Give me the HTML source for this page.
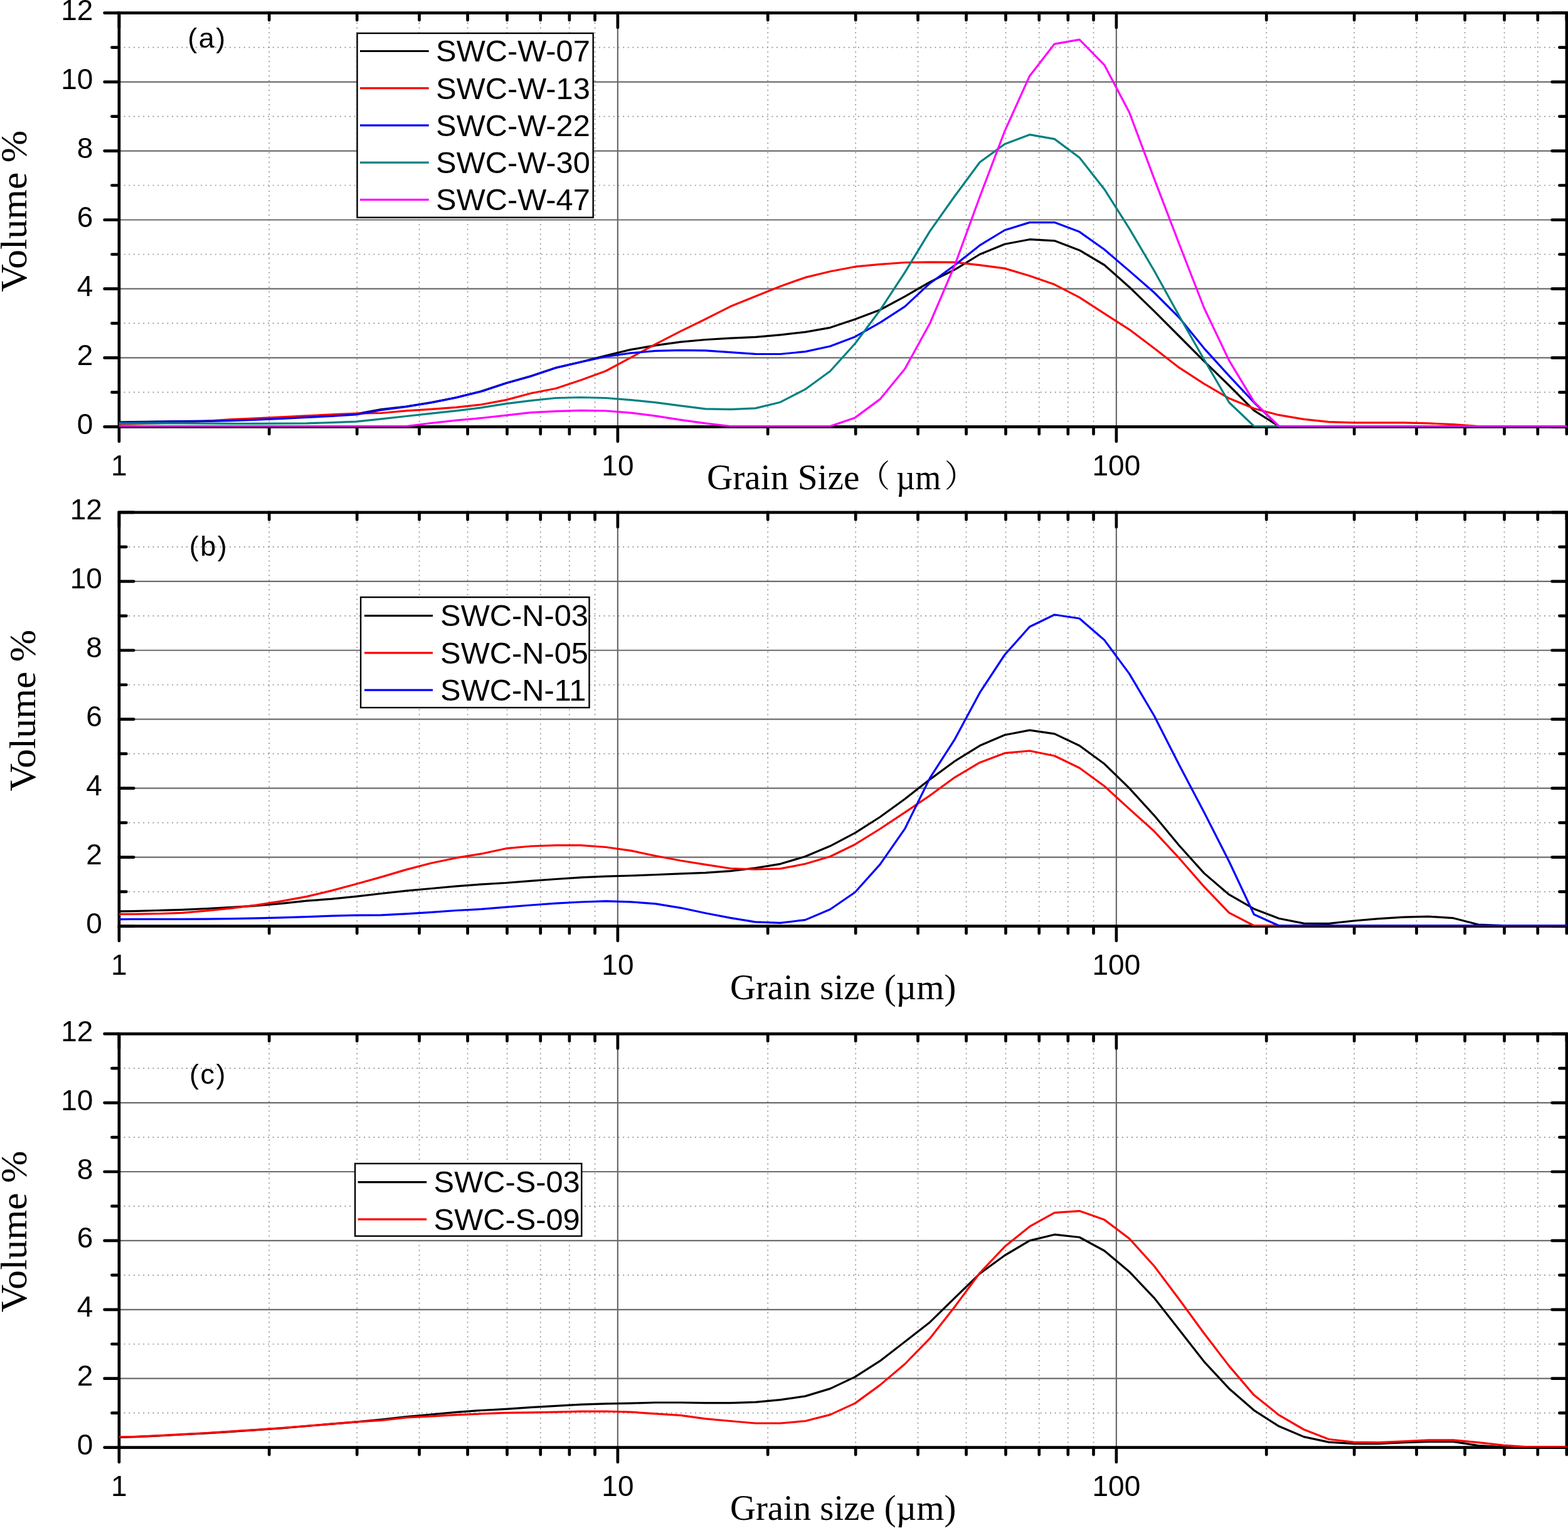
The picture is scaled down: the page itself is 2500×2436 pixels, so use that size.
<!DOCTYPE html>
<html><head><meta charset="utf-8"><title>Grain size distributions</title>
<style>
html,body{margin:0;padding:0;background:#fff;}
svg{display:block;}
.tl{font-family:"Liberation Sans",Arial,sans-serif;font-size:46px;fill:#000;}
.leg{font-family:"Liberation Sans",Arial,sans-serif;font-size:48.8px;fill:#000;}
.tag{font-family:"Liberation Sans",Arial,sans-serif;font-size:45px;letter-spacing:2.5px;fill:#000;}
.ttl{font-family:"Liberation Serif","Times New Roman",serif;font-size:58px;fill:#000;}
.vol{font-size:60px;}
.cjkp{font-family:"Noto Serif CJK SC",serif;font-size:50px;}
.cjk{font-family:"Noto Serif CJK SC","Noto Sans CJK SC",serif;}
.dot{stroke:#959595;stroke-width:1.7;stroke-dasharray:2 5.65;}
.doth{stroke:#959595;stroke-width:1.7;stroke-dasharray:2 5.65;}
.grid{stroke:#6b6b6b;stroke-width:2.2;}
</style></head>
<body>
<svg width="2500" height="2436" viewBox="0 0 2500 2436">
<rect width="2500" height="2436" fill="#fff"/>
<line x1="429.22" y1="20.60" x2="429.22" y2="680.40" class="dot"/>
<line x1="569.21" y1="20.60" x2="569.21" y2="680.40" class="dot"/>
<line x1="668.54" y1="20.60" x2="668.54" y2="680.40" class="dot"/>
<line x1="745.58" y1="20.60" x2="745.58" y2="680.40" class="dot"/>
<line x1="808.53" y1="20.60" x2="808.53" y2="680.40" class="dot"/>
<line x1="861.75" y1="20.60" x2="861.75" y2="680.40" class="dot"/>
<line x1="907.86" y1="20.60" x2="907.86" y2="680.40" class="dot"/>
<line x1="948.52" y1="20.60" x2="948.52" y2="680.40" class="dot"/>
<line x1="1224.22" y1="20.60" x2="1224.22" y2="680.40" class="dot"/>
<line x1="1364.21" y1="20.60" x2="1364.21" y2="680.40" class="dot"/>
<line x1="1463.54" y1="20.60" x2="1463.54" y2="680.40" class="dot"/>
<line x1="1540.58" y1="20.60" x2="1540.58" y2="680.40" class="dot"/>
<line x1="1603.53" y1="20.60" x2="1603.53" y2="680.40" class="dot"/>
<line x1="1656.75" y1="20.60" x2="1656.75" y2="680.40" class="dot"/>
<line x1="1702.86" y1="20.60" x2="1702.86" y2="680.40" class="dot"/>
<line x1="1743.52" y1="20.60" x2="1743.52" y2="680.40" class="dot"/>
<line x1="2019.22" y1="20.60" x2="2019.22" y2="680.40" class="dot"/>
<line x1="2159.21" y1="20.60" x2="2159.21" y2="680.40" class="dot"/>
<line x1="2258.54" y1="20.60" x2="2258.54" y2="680.40" class="dot"/>
<line x1="2335.58" y1="20.60" x2="2335.58" y2="680.40" class="dot"/>
<line x1="2398.53" y1="20.60" x2="2398.53" y2="680.40" class="dot"/>
<line x1="2451.75" y1="20.60" x2="2451.75" y2="680.40" class="dot"/>
<line x1="189.90" y1="625.42" x2="2497.90" y2="625.42" class="doth"/>
<line x1="189.90" y1="515.45" x2="2497.90" y2="515.45" class="doth"/>
<line x1="189.90" y1="405.48" x2="2497.90" y2="405.48" class="doth"/>
<line x1="189.90" y1="295.52" x2="2497.90" y2="295.52" class="doth"/>
<line x1="189.90" y1="185.55" x2="2497.90" y2="185.55" class="doth"/>
<line x1="189.90" y1="75.58" x2="2497.90" y2="75.58" class="doth"/>
<line x1="984.90" y1="20.60" x2="984.90" y2="680.40" class="grid"/>
<line x1="1779.90" y1="20.60" x2="1779.90" y2="680.40" class="grid"/>
<line x1="189.90" y1="570.43" x2="2497.90" y2="570.43" class="grid"/>
<line x1="189.90" y1="460.47" x2="2497.90" y2="460.47" class="grid"/>
<line x1="189.90" y1="350.50" x2="2497.90" y2="350.50" class="grid"/>
<line x1="189.90" y1="240.53" x2="2497.90" y2="240.53" class="grid"/>
<line x1="189.90" y1="130.57" x2="2497.90" y2="130.57" class="grid"/>
<rect x="189.90" y="20.60" width="2308.00" height="659.80" fill="none" stroke="#000" stroke-width="4.7"/>
<path d="M189.90 680.40V703.70M189.90 20.60V43.90M429.22 680.40V691.90M429.22 20.60V32.10M569.21 680.40V691.90M569.21 20.60V32.10M668.54 680.40V691.90M668.54 20.60V32.10M745.58 680.40V691.90M745.58 20.60V32.10M808.53 680.40V691.90M808.53 20.60V32.10M861.75 680.40V691.90M861.75 20.60V32.10M907.86 680.40V691.90M907.86 20.60V32.10M948.52 680.40V691.90M948.52 20.60V32.10M984.90 680.40V703.70M984.90 20.60V43.90M1224.22 680.40V691.90M1224.22 20.60V32.10M1364.21 680.40V691.90M1364.21 20.60V32.10M1463.54 680.40V691.90M1463.54 20.60V32.10M1540.58 680.40V691.90M1540.58 20.60V32.10M1603.53 680.40V691.90M1603.53 20.60V32.10M1656.75 680.40V691.90M1656.75 20.60V32.10M1702.86 680.40V691.90M1702.86 20.60V32.10M1743.52 680.40V691.90M1743.52 20.60V32.10M1779.90 680.40V703.70M1779.90 20.60V43.90M2019.22 680.40V691.90M2019.22 20.60V32.10M2159.21 680.40V691.90M2159.21 20.60V32.10M2258.54 680.40V691.90M2258.54 20.60V32.10M2335.58 680.40V691.90M2335.58 20.60V32.10M2398.53 680.40V691.90M2398.53 20.60V32.10M2451.75 680.40V691.90M2451.75 20.60V32.10M2497.86 680.40V691.90M2497.86 20.60V32.10M166.60 680.40H189.90M2497.90 680.40H2474.60M178.40 625.42H189.90M2497.90 625.42H2486.40M166.60 570.43H189.90M2497.90 570.43H2474.60M178.40 515.45H189.90M2497.90 515.45H2486.40M166.60 460.47H189.90M2497.90 460.47H2474.60M178.40 405.48H189.90M2497.90 405.48H2486.40M166.60 350.50H189.90M2497.90 350.50H2474.60M178.40 295.52H189.90M2497.90 295.52H2486.40M166.60 240.53H189.90M2497.90 240.53H2474.60M178.40 185.55H189.90M2497.90 185.55H2486.40M166.60 130.57H189.90M2497.90 130.57H2474.60M178.40 75.58H189.90M2497.90 75.58H2486.40M166.60 20.60H189.90M2497.90 20.60H2474.60" stroke="#000" stroke-width="4.7" stroke-linecap="round" fill="none"/>
<clipPath id="clipa"><rect x="189.90" y="18.60" width="2308.00" height="661.80"/></clipPath>
<g clip-path="url(#clipa)" fill="none" stroke-width="3.2" stroke-linejoin="round">
<polyline stroke="#000000" points="170.8,673.5 210.6,672.7 250.3,672.2 290.1,671.6 329.8,671.1 369.6,670.0 409.3,668.2 449.1,666.4 488.8,664.2 528.6,662.1 568.3,659.8 608.1,652.6 647.8,648.0 687.6,641.6 727.3,633.7 767.1,623.8 806.8,610.8 846.6,599.6 886.3,586.3 926.1,577.0 965.8,567.0 1005.6,557.4 1045.3,550.6 1085.1,545.1 1124.8,541.5 1164.6,539.1 1204.3,537.4 1244.1,533.8 1283.8,529.4 1323.6,522.3 1363.3,509.0 1403.1,494.0 1442.8,472.7 1482.6,449.6 1522.3,429.8 1562.1,405.5 1601.8,389.2 1641.6,381.7 1681.3,383.8 1721.1,398.9 1760.8,422.5 1800.6,457.7 1840.3,496.1 1880.1,536.0 1919.8,575.9 1959.6,614.5 1999.3,654.4 2039.1,679.6 2078.8,679.6 2118.6,679.6 2158.3,679.6 2198.1,679.6 2237.8,679.6 2277.6,679.6 2317.3,679.6 2357.1,679.6 2396.8,679.6 2436.6,679.6 2476.3,679.6 2516.1,679.6"/>
<polyline stroke="#ff0000" points="170.8,676.3 210.6,676.0 250.3,674.9 290.1,673.3 329.8,671.1 369.6,668.7 409.3,666.9 449.1,664.8 488.8,662.8 528.6,660.8 568.3,659.2 608.1,658.5 647.8,654.8 687.6,652.4 727.3,649.3 767.1,645.0 806.8,637.6 846.6,627.0 886.3,619.2 926.1,605.9 965.8,591.5 1005.6,570.1 1045.3,548.6 1085.1,528.2 1124.8,508.7 1164.6,488.6 1204.3,472.5 1244.1,456.4 1283.8,442.4 1323.6,432.7 1363.3,425.2 1403.1,421.4 1442.8,418.5 1482.6,417.9 1522.3,418.2 1562.1,422.7 1601.8,427.9 1641.6,439.7 1681.3,453.6 1721.1,474.1 1760.8,499.9 1800.6,525.3 1840.3,555.3 1880.1,586.2 1919.8,611.9 1959.6,635.1 1999.3,651.3 2039.1,661.7 2078.8,668.3 2118.6,672.7 2158.3,673.8 2198.1,673.8 2237.8,673.8 2277.6,674.9 2317.3,676.6 2357.1,679.6 2396.8,679.6 2436.6,679.6 2476.3,679.6 2516.1,679.6"/>
<polyline stroke="#0000ff" points="170.8,673.8 210.6,673.0 250.3,672.4 290.1,671.9 329.8,671.5 369.6,670.6 409.3,669.1 449.1,667.5 488.8,665.4 528.6,663.4 568.3,660.9 608.1,653.6 647.8,648.3 687.6,642.0 727.3,633.9 767.1,624.2 806.8,611.0 846.6,599.7 886.3,586.4 926.1,577.3 965.8,568.5 1005.6,562.9 1045.3,559.4 1085.1,558.4 1124.8,558.8 1164.6,561.6 1204.3,564.3 1244.1,564.5 1283.8,560.6 1323.6,552.0 1363.3,536.9 1403.1,514.4 1442.8,488.7 1482.6,451.7 1522.3,422.7 1562.1,391.2 1601.8,367.0 1641.6,354.6 1681.3,354.6 1721.1,369.6 1760.8,397.8 1800.6,431.9 1840.3,466.5 1880.1,506.4 1919.8,555.3 1959.6,599.1 1999.3,641.5 2039.1,679.6 2078.8,679.6 2118.6,679.6 2158.3,679.6 2198.1,679.6 2237.8,679.6 2277.6,679.6 2317.3,679.6 2357.1,679.6 2396.8,679.6 2436.6,679.6 2476.3,679.6 2516.1,679.6"/>
<polyline stroke="#008080" points="170.8,674.9 210.6,674.9 250.3,674.9 290.1,674.9 329.8,675.2 369.6,675.3 409.3,675.3 449.1,675.2 488.8,674.9 528.6,673.6 568.3,672.2 608.1,667.8 647.8,663.5 687.6,659.1 727.3,654.8 767.1,649.9 806.8,643.7 846.6,638.6 886.3,634.5 926.1,633.5 965.8,634.5 1005.6,637.6 1045.3,641.7 1085.1,646.8 1124.8,651.9 1164.6,652.6 1204.3,650.9 1244.1,641.2 1283.8,620.7 1323.6,591.8 1363.3,547.7 1403.1,494.6 1442.8,434.1 1482.6,368.6 1522.3,312.5 1562.1,258.7 1601.8,229.8 1641.6,214.7 1681.3,221.6 1721.1,251.2 1760.8,301.7 1800.6,364.4 1840.3,431.8 1880.1,503.8 1919.8,573.3 1959.6,641.5 1999.3,679.4 2039.1,679.6 2078.8,679.6 2118.6,679.6 2158.3,679.6 2198.1,679.6 2237.8,679.6 2277.6,679.6 2317.3,679.6 2357.1,679.6 2396.8,679.6 2436.6,679.6 2476.3,679.6 2516.1,679.6"/>
<polyline stroke="#ff00ff" points="170.8,679.6 210.6,679.6 250.3,679.6 290.1,679.6 329.8,679.6 369.6,679.6 409.3,679.6 449.1,679.6 488.8,679.6 528.6,679.6 568.3,679.6 608.1,679.6 647.8,679.6 687.6,674.5 727.3,670.2 767.1,666.5 806.8,662.1 846.6,657.6 886.3,655.6 926.1,654.4 965.8,655.0 1005.6,658.1 1045.3,663.2 1085.1,669.3 1124.8,674.9 1164.6,679.6 1204.3,679.6 1244.1,679.6 1283.8,679.6 1323.6,679.6 1363.3,665.9 1403.1,636.4 1442.8,588.0 1482.6,515.5 1522.3,422.7 1562.1,314.0 1601.8,209.3 1641.6,121.2 1681.3,70.1 1721.1,63.2 1760.8,103.6 1800.6,179.2 1840.3,285.1 1880.1,389.0 1919.8,491.0 1959.6,574.6 1999.3,640.3 2039.1,679.6 2078.8,679.6 2118.6,679.6 2158.3,679.6 2198.1,679.6 2237.8,679.6 2277.6,679.6 2317.3,679.6 2357.1,679.6 2396.8,679.6 2436.6,679.6 2476.3,679.6 2516.1,679.6"/>
</g>
<rect x="569.5" y="53.0" width="376.2" height="293.7" fill="#fff" stroke="#000" stroke-width="2.4"/>
<line x1="574" y1="81.5" x2="683.7" y2="81.5" stroke="#000000" stroke-width="3.2"/>
<text x="695.1" y="98.3" class="leg">SWC-W-07</text>
<line x1="574" y1="140.7" x2="683.7" y2="140.7" stroke="#ff0000" stroke-width="3.2"/>
<text x="695.1" y="157.5" class="leg">SWC-W-13</text>
<line x1="574" y1="199.9" x2="683.7" y2="199.9" stroke="#0000ff" stroke-width="3.2"/>
<text x="695.1" y="216.7" class="leg">SWC-W-22</text>
<line x1="574" y1="259.1" x2="683.7" y2="259.1" stroke="#008080" stroke-width="3.2"/>
<text x="695.1" y="275.9" class="leg">SWC-W-30</text>
<line x1="574" y1="318.3" x2="683.7" y2="318.3" stroke="#ff00ff" stroke-width="3.2"/>
<text x="695.1" y="335.1" class="leg">SWC-W-47</text>
<text x="148.3" y="691.9" class="tl" text-anchor="end">0</text>
<text x="148.3" y="581.9" class="tl" text-anchor="end">2</text>
<text x="148.3" y="472.0" class="tl" text-anchor="end">4</text>
<text x="148.3" y="362.0" class="tl" text-anchor="end">6</text>
<text x="148.3" y="252.0" class="tl" text-anchor="end">8</text>
<text x="148.3" y="142.1" class="tl" text-anchor="end">10</text>
<text x="148.3" y="32.1" class="tl" text-anchor="end">12</text>
<text x="189.90" y="757.7" class="tl" text-anchor="middle">1</text>
<text x="984.90" y="757.7" class="tl" text-anchor="middle">10</text>
<text x="1779.90" y="757.7" class="tl" text-anchor="middle">100</text>
<text x="1126.9" y="779.6" class="ttl" textLength="243.5" lengthAdjust="spacingAndGlyphs">Grain Size</text>
<text x="1369.3" y="776.1" class="ttl cjkp">（</text>
<text x="1428.9" y="779.6" class="ttl" textLength="71.2" lengthAdjust="spacingAndGlyphs">µm</text>
<text x="1505.7" y="776.1" class="ttl cjkp">）</text>
<text transform="translate(41.7,336.6) rotate(-90)" class="ttl vol" text-anchor="middle" textLength="257.6" lengthAdjust="spacingAndGlyphs">Volume %</text>
<text x="299.2" y="76.0" class="tag">(a)</text>
<line x1="429.22" y1="816.90" x2="429.22" y2="1476.50" class="dot"/>
<line x1="569.21" y1="816.90" x2="569.21" y2="1476.50" class="dot"/>
<line x1="668.54" y1="816.90" x2="668.54" y2="1476.50" class="dot"/>
<line x1="745.58" y1="816.90" x2="745.58" y2="1476.50" class="dot"/>
<line x1="808.53" y1="816.90" x2="808.53" y2="1476.50" class="dot"/>
<line x1="861.75" y1="816.90" x2="861.75" y2="1476.50" class="dot"/>
<line x1="907.86" y1="816.90" x2="907.86" y2="1476.50" class="dot"/>
<line x1="948.52" y1="816.90" x2="948.52" y2="1476.50" class="dot"/>
<line x1="1224.22" y1="816.90" x2="1224.22" y2="1476.50" class="dot"/>
<line x1="1364.21" y1="816.90" x2="1364.21" y2="1476.50" class="dot"/>
<line x1="1463.54" y1="816.90" x2="1463.54" y2="1476.50" class="dot"/>
<line x1="1540.58" y1="816.90" x2="1540.58" y2="1476.50" class="dot"/>
<line x1="1603.53" y1="816.90" x2="1603.53" y2="1476.50" class="dot"/>
<line x1="1656.75" y1="816.90" x2="1656.75" y2="1476.50" class="dot"/>
<line x1="1702.86" y1="816.90" x2="1702.86" y2="1476.50" class="dot"/>
<line x1="1743.52" y1="816.90" x2="1743.52" y2="1476.50" class="dot"/>
<line x1="2019.22" y1="816.90" x2="2019.22" y2="1476.50" class="dot"/>
<line x1="2159.21" y1="816.90" x2="2159.21" y2="1476.50" class="dot"/>
<line x1="2258.54" y1="816.90" x2="2258.54" y2="1476.50" class="dot"/>
<line x1="2335.58" y1="816.90" x2="2335.58" y2="1476.50" class="dot"/>
<line x1="2398.53" y1="816.90" x2="2398.53" y2="1476.50" class="dot"/>
<line x1="2451.75" y1="816.90" x2="2451.75" y2="1476.50" class="dot"/>
<line x1="189.90" y1="1421.53" x2="2497.90" y2="1421.53" class="doth"/>
<line x1="189.90" y1="1311.60" x2="2497.90" y2="1311.60" class="doth"/>
<line x1="189.90" y1="1201.67" x2="2497.90" y2="1201.67" class="doth"/>
<line x1="189.90" y1="1091.73" x2="2497.90" y2="1091.73" class="doth"/>
<line x1="189.90" y1="981.80" x2="2497.90" y2="981.80" class="doth"/>
<line x1="189.90" y1="871.87" x2="2497.90" y2="871.87" class="doth"/>
<line x1="984.90" y1="816.90" x2="984.90" y2="1476.50" class="grid"/>
<line x1="1779.90" y1="816.90" x2="1779.90" y2="1476.50" class="grid"/>
<line x1="189.90" y1="1366.57" x2="2497.90" y2="1366.57" class="grid"/>
<line x1="189.90" y1="1256.63" x2="2497.90" y2="1256.63" class="grid"/>
<line x1="189.90" y1="1146.70" x2="2497.90" y2="1146.70" class="grid"/>
<line x1="189.90" y1="1036.77" x2="2497.90" y2="1036.77" class="grid"/>
<line x1="189.90" y1="926.83" x2="2497.90" y2="926.83" class="grid"/>
<rect x="189.90" y="816.90" width="2308.00" height="659.60" fill="none" stroke="#000" stroke-width="4.7"/>
<path d="M189.90 1476.50V1499.80M189.90 816.90V840.20M429.22 1476.50V1488.00M429.22 816.90V828.40M569.21 1476.50V1488.00M569.21 816.90V828.40M668.54 1476.50V1488.00M668.54 816.90V828.40M745.58 1476.50V1488.00M745.58 816.90V828.40M808.53 1476.50V1488.00M808.53 816.90V828.40M861.75 1476.50V1488.00M861.75 816.90V828.40M907.86 1476.50V1488.00M907.86 816.90V828.40M948.52 1476.50V1488.00M948.52 816.90V828.40M984.90 1476.50V1499.80M984.90 816.90V840.20M1224.22 1476.50V1488.00M1224.22 816.90V828.40M1364.21 1476.50V1488.00M1364.21 816.90V828.40M1463.54 1476.50V1488.00M1463.54 816.90V828.40M1540.58 1476.50V1488.00M1540.58 816.90V828.40M1603.53 1476.50V1488.00M1603.53 816.90V828.40M1656.75 1476.50V1488.00M1656.75 816.90V828.40M1702.86 1476.50V1488.00M1702.86 816.90V828.40M1743.52 1476.50V1488.00M1743.52 816.90V828.40M1779.90 1476.50V1499.80M1779.90 816.90V840.20M2019.22 1476.50V1488.00M2019.22 816.90V828.40M2159.21 1476.50V1488.00M2159.21 816.90V828.40M2258.54 1476.50V1488.00M2258.54 816.90V828.40M2335.58 1476.50V1488.00M2335.58 816.90V828.40M2398.53 1476.50V1488.00M2398.53 816.90V828.40M2451.75 1476.50V1488.00M2451.75 816.90V828.40M2497.86 1476.50V1488.00M2497.86 816.90V828.40M189.90 1476.50H213.20M2497.90 1476.50H2474.60M189.90 1421.53H201.40M2497.90 1421.53H2486.40M189.90 1366.57H213.20M2497.90 1366.57H2474.60M189.90 1311.60H201.40M2497.90 1311.60H2486.40M189.90 1256.63H213.20M2497.90 1256.63H2474.60M189.90 1201.67H201.40M2497.90 1201.67H2486.40M189.90 1146.70H213.20M2497.90 1146.70H2474.60M189.90 1091.73H201.40M2497.90 1091.73H2486.40M189.90 1036.77H213.20M2497.90 1036.77H2474.60M189.90 981.80H201.40M2497.90 981.80H2486.40M189.90 926.83H213.20M2497.90 926.83H2474.60M189.90 871.87H201.40M2497.90 871.87H2486.40M189.90 816.90H213.20M2497.90 816.90H2474.60" stroke="#000" stroke-width="4.7" stroke-linecap="round" fill="none"/>
<clipPath id="clipb"><rect x="189.90" y="814.90" width="2308.00" height="661.60"/></clipPath>
<g clip-path="url(#clipb)" fill="none" stroke-width="3.2" stroke-linejoin="round">
<polyline stroke="#000000" points="170.8,1453.1 210.6,1452.6 250.3,1451.5 290.1,1450.3 329.8,1448.5 369.6,1446.4 409.3,1443.8 449.1,1440.3 488.8,1436.2 528.6,1433.1 568.3,1429.1 608.1,1424.5 647.8,1420.2 687.6,1416.5 727.3,1412.8 767.1,1409.8 806.8,1407.5 846.6,1404.3 886.3,1401.5 926.1,1398.9 965.8,1397.2 1005.6,1396.0 1045.3,1394.5 1085.1,1392.8 1124.8,1391.4 1164.6,1388.6 1204.3,1383.8 1244.1,1377.3 1283.8,1365.5 1323.6,1348.8 1363.3,1327.9 1403.1,1302.5 1442.8,1273.7 1482.6,1242.6 1522.3,1213.5 1562.1,1188.8 1601.8,1171.7 1641.6,1164.1 1681.3,1169.9 1721.1,1188.8 1760.8,1217.8 1800.6,1256.6 1840.3,1300.1 1880.1,1348.0 1919.8,1392.1 1959.6,1426.2 1999.3,1448.9 2039.1,1464.2 2078.8,1472.1 2118.6,1472.4 2158.3,1468.0 2198.1,1464.7 2237.8,1462.2 2277.6,1461.1 2317.3,1463.7 2357.1,1474.0 2396.8,1475.7 2436.6,1475.7 2476.3,1475.7 2516.1,1475.7"/>
<polyline stroke="#ff0000" points="170.8,1457.5 210.6,1457.3 250.3,1456.7 290.1,1455.4 329.8,1451.9 369.6,1447.9 409.3,1442.8 449.1,1436.6 488.8,1429.4 528.6,1419.9 568.3,1409.2 608.1,1398.1 647.8,1386.4 687.6,1376.0 727.3,1367.7 767.1,1361.2 806.8,1352.7 846.6,1349.0 886.3,1347.7 926.1,1347.7 965.8,1350.5 1005.6,1356.1 1045.3,1364.5 1085.1,1372.0 1124.8,1378.4 1164.6,1384.5 1204.3,1386.0 1244.1,1384.9 1283.8,1377.3 1323.6,1365.5 1363.3,1346.2 1403.1,1321.5 1442.8,1295.2 1482.6,1268.3 1522.3,1239.3 1562.1,1215.7 1601.8,1200.7 1641.6,1197.0 1681.3,1205.0 1721.1,1224.3 1760.8,1253.3 1800.6,1289.6 1840.3,1325.3 1880.1,1368.2 1919.8,1413.6 1959.6,1455.2 1999.3,1475.7 2039.1,1475.7 2078.8,1475.7 2118.6,1475.7 2158.3,1475.7 2198.1,1475.7 2237.8,1475.7 2277.6,1475.7 2317.3,1475.7 2357.1,1475.7 2396.8,1475.7 2436.6,1475.7 2476.3,1475.7 2516.1,1475.7"/>
<polyline stroke="#0000ff" points="170.8,1465.8 210.6,1465.3 250.3,1465.3 290.1,1465.3 329.8,1465.2 369.6,1464.6 409.3,1463.9 449.1,1462.8 488.8,1461.6 528.6,1460.1 568.3,1459.1 608.1,1458.8 647.8,1456.9 687.6,1454.3 727.3,1451.5 767.1,1449.4 806.8,1446.2 846.6,1443.0 886.3,1440.2 926.1,1438.0 965.8,1436.7 1005.6,1437.8 1045.3,1440.8 1085.1,1447.3 1124.8,1455.8 1164.6,1463.4 1204.3,1469.8 1244.1,1471.3 1283.8,1466.6 1323.6,1449.8 1363.3,1422.5 1403.1,1378.1 1442.8,1321.1 1482.6,1240.4 1522.3,1178.6 1562.1,1104.4 1601.8,1044.0 1641.6,999.3 1681.3,980.0 1721.1,986.0 1760.8,1020.4 1800.6,1074.1 1840.3,1141.3 1880.1,1219.4 1919.8,1295.1 1959.6,1373.2 1999.3,1457.7 2039.1,1475.7 2078.8,1475.7 2118.6,1475.7 2158.3,1475.7 2198.1,1475.7 2237.8,1475.7 2277.6,1475.7 2317.3,1475.7 2357.1,1475.7 2396.8,1475.7 2436.6,1475.7 2476.3,1475.7 2516.1,1475.7"/>
</g>
<rect x="575.1" y="952.1" width="364.4" height="176.0" fill="#fff" stroke="#000" stroke-width="2.4"/>
<line x1="581" y1="981.6" x2="690" y2="981.6" stroke="#000000" stroke-width="3.2"/>
<text x="702.1" y="998.4" class="leg">SWC-N-03</text>
<line x1="581" y1="1040.9" x2="690" y2="1040.9" stroke="#ff0000" stroke-width="3.2"/>
<text x="702.1" y="1057.7" class="leg">SWC-N-05</text>
<line x1="581" y1="1100.2" x2="690" y2="1100.2" stroke="#0000ff" stroke-width="3.2"/>
<text x="702.1" y="1117.0" class="leg">SWC-N-11</text>
<text x="162.9" y="1488.0" class="tl" text-anchor="end">0</text>
<text x="162.9" y="1378.1" class="tl" text-anchor="end">2</text>
<text x="162.9" y="1268.1" class="tl" text-anchor="end">4</text>
<text x="162.9" y="1158.2" class="tl" text-anchor="end">6</text>
<text x="162.9" y="1048.3" class="tl" text-anchor="end">8</text>
<text x="162.9" y="938.3" class="tl" text-anchor="end">10</text>
<text x="162.9" y="828.4" class="tl" text-anchor="end">12</text>
<text x="189.90" y="1553.8" class="tl" text-anchor="middle">1</text>
<text x="984.90" y="1553.8" class="tl" text-anchor="middle">10</text>
<text x="1779.90" y="1553.8" class="tl" text-anchor="middle">100</text>
<text x="1164" y="1592.6" class="ttl" textLength="360.3" lengthAdjust="spacingAndGlyphs">Grain size (µm)</text>
<text transform="translate(55.9,1132.6) rotate(-90)" class="ttl vol" text-anchor="middle" textLength="257.6" lengthAdjust="spacingAndGlyphs">Volume %</text>
<text x="301.8" y="886.0" class="tag">(b)</text>
<line x1="429.22" y1="1648.20" x2="429.22" y2="2307.60" class="dot"/>
<line x1="569.21" y1="1648.20" x2="569.21" y2="2307.60" class="dot"/>
<line x1="668.54" y1="1648.20" x2="668.54" y2="2307.60" class="dot"/>
<line x1="745.58" y1="1648.20" x2="745.58" y2="2307.60" class="dot"/>
<line x1="808.53" y1="1648.20" x2="808.53" y2="2307.60" class="dot"/>
<line x1="861.75" y1="1648.20" x2="861.75" y2="2307.60" class="dot"/>
<line x1="907.86" y1="1648.20" x2="907.86" y2="2307.60" class="dot"/>
<line x1="948.52" y1="1648.20" x2="948.52" y2="2307.60" class="dot"/>
<line x1="1224.22" y1="1648.20" x2="1224.22" y2="2307.60" class="dot"/>
<line x1="1364.21" y1="1648.20" x2="1364.21" y2="2307.60" class="dot"/>
<line x1="1463.54" y1="1648.20" x2="1463.54" y2="2307.60" class="dot"/>
<line x1="1540.58" y1="1648.20" x2="1540.58" y2="2307.60" class="dot"/>
<line x1="1603.53" y1="1648.20" x2="1603.53" y2="2307.60" class="dot"/>
<line x1="1656.75" y1="1648.20" x2="1656.75" y2="2307.60" class="dot"/>
<line x1="1702.86" y1="1648.20" x2="1702.86" y2="2307.60" class="dot"/>
<line x1="1743.52" y1="1648.20" x2="1743.52" y2="2307.60" class="dot"/>
<line x1="2019.22" y1="1648.20" x2="2019.22" y2="2307.60" class="dot"/>
<line x1="2159.21" y1="1648.20" x2="2159.21" y2="2307.60" class="dot"/>
<line x1="2258.54" y1="1648.20" x2="2258.54" y2="2307.60" class="dot"/>
<line x1="2335.58" y1="1648.20" x2="2335.58" y2="2307.60" class="dot"/>
<line x1="2398.53" y1="1648.20" x2="2398.53" y2="2307.60" class="dot"/>
<line x1="2451.75" y1="1648.20" x2="2451.75" y2="2307.60" class="dot"/>
<line x1="189.90" y1="2252.65" x2="2497.90" y2="2252.65" class="doth"/>
<line x1="189.90" y1="2142.75" x2="2497.90" y2="2142.75" class="doth"/>
<line x1="189.90" y1="2032.85" x2="2497.90" y2="2032.85" class="doth"/>
<line x1="189.90" y1="1922.95" x2="2497.90" y2="1922.95" class="doth"/>
<line x1="189.90" y1="1813.05" x2="2497.90" y2="1813.05" class="doth"/>
<line x1="189.90" y1="1703.15" x2="2497.90" y2="1703.15" class="doth"/>
<line x1="984.90" y1="1648.20" x2="984.90" y2="2307.60" class="grid"/>
<line x1="1779.90" y1="1648.20" x2="1779.90" y2="2307.60" class="grid"/>
<line x1="189.90" y1="2197.70" x2="2497.90" y2="2197.70" class="grid"/>
<line x1="189.90" y1="2087.80" x2="2497.90" y2="2087.80" class="grid"/>
<line x1="189.90" y1="1977.90" x2="2497.90" y2="1977.90" class="grid"/>
<line x1="189.90" y1="1868.00" x2="2497.90" y2="1868.00" class="grid"/>
<line x1="189.90" y1="1758.10" x2="2497.90" y2="1758.10" class="grid"/>
<rect x="189.90" y="1648.20" width="2308.00" height="659.40" fill="none" stroke="#000" stroke-width="4.7"/>
<path d="M189.90 2307.60V2330.90M189.90 1648.20V1671.50M429.22 2307.60V2319.10M429.22 1648.20V1659.70M569.21 2307.60V2319.10M569.21 1648.20V1659.70M668.54 2307.60V2319.10M668.54 1648.20V1659.70M745.58 2307.60V2319.10M745.58 1648.20V1659.70M808.53 2307.60V2319.10M808.53 1648.20V1659.70M861.75 2307.60V2319.10M861.75 1648.20V1659.70M907.86 2307.60V2319.10M907.86 1648.20V1659.70M948.52 2307.60V2319.10M948.52 1648.20V1659.70M984.90 2307.60V2330.90M984.90 1648.20V1671.50M1224.22 2307.60V2319.10M1224.22 1648.20V1659.70M1364.21 2307.60V2319.10M1364.21 1648.20V1659.70M1463.54 2307.60V2319.10M1463.54 1648.20V1659.70M1540.58 2307.60V2319.10M1540.58 1648.20V1659.70M1603.53 2307.60V2319.10M1603.53 1648.20V1659.70M1656.75 2307.60V2319.10M1656.75 1648.20V1659.70M1702.86 2307.60V2319.10M1702.86 1648.20V1659.70M1743.52 2307.60V2319.10M1743.52 1648.20V1659.70M1779.90 2307.60V2330.90M1779.90 1648.20V1671.50M2019.22 2307.60V2319.10M2019.22 1648.20V1659.70M2159.21 2307.60V2319.10M2159.21 1648.20V1659.70M2258.54 2307.60V2319.10M2258.54 1648.20V1659.70M2335.58 2307.60V2319.10M2335.58 1648.20V1659.70M2398.53 2307.60V2319.10M2398.53 1648.20V1659.70M2451.75 2307.60V2319.10M2451.75 1648.20V1659.70M2497.86 2307.60V2319.10M2497.86 1648.20V1659.70M166.60 2307.60H189.90M2497.90 2307.60H2474.60M178.40 2252.65H189.90M2497.90 2252.65H2486.40M166.60 2197.70H189.90M2497.90 2197.70H2474.60M178.40 2142.75H189.90M2497.90 2142.75H2486.40M166.60 2087.80H189.90M2497.90 2087.80H2474.60M178.40 2032.85H189.90M2497.90 2032.85H2486.40M166.60 1977.90H189.90M2497.90 1977.90H2474.60M178.40 1922.95H189.90M2497.90 1922.95H2486.40M166.60 1868.00H189.90M2497.90 1868.00H2474.60M178.40 1813.05H189.90M2497.90 1813.05H2486.40M166.60 1758.10H189.90M2497.90 1758.10H2474.60M178.40 1703.15H189.90M2497.90 1703.15H2486.40M166.60 1648.20H189.90M2497.90 1648.20H2474.60" stroke="#000" stroke-width="4.7" stroke-linecap="round" fill="none"/>
<clipPath id="clipc"><rect x="189.90" y="1646.20" width="2308.00" height="661.40"/></clipPath>
<g clip-path="url(#clipc)" fill="none" stroke-width="3.2" stroke-linejoin="round">
<polyline stroke="#000000" points="170.8,2291.7 210.6,2290.8 250.3,2289.2 290.1,2287.0 329.8,2284.8 369.6,2282.3 409.3,2279.7 449.1,2276.8 488.8,2273.5 528.6,2270.2 568.3,2266.8 608.1,2263.1 647.8,2258.6 687.6,2255.0 727.3,2251.3 767.1,2248.5 806.8,2246.4 846.6,2243.6 886.3,2241.4 926.1,2239.2 965.8,2237.8 1005.6,2237.1 1045.3,2236.0 1085.1,2236.0 1124.8,2236.7 1164.6,2236.7 1204.3,2235.4 1244.1,2231.7 1283.8,2225.9 1323.6,2213.9 1363.3,2195.1 1403.1,2169.7 1442.8,2139.1 1482.6,2107.9 1522.3,2069.2 1562.1,2030.5 1601.8,2001.5 1641.6,1977.9 1681.3,1968.2 1721.1,1972.5 1760.8,1994.0 1800.6,2027.4 1840.3,2069.3 1880.1,2120.1 1919.8,2170.8 1959.6,2213.7 1999.3,2248.3 2039.1,2273.8 2078.8,2290.6 2118.6,2299.1 2158.3,2301.7 2198.1,2301.7 2237.8,2299.6 2277.6,2298.3 2317.3,2298.3 2357.1,2304.7 2396.8,2306.8 2436.6,2306.8 2476.3,2306.8 2516.1,2306.8"/>
<polyline stroke="#ff0000" points="170.8,2291.4 210.6,2290.5 250.3,2288.8 290.1,2286.6 329.8,2284.5 369.6,2281.9 409.3,2279.3 449.1,2276.5 488.8,2273.3 528.6,2270.1 568.3,2266.8 608.1,2264.5 647.8,2260.0 687.6,2257.8 727.3,2255.6 767.1,2253.9 806.8,2252.4 846.6,2251.8 886.3,2251.1 926.1,2250.2 965.8,2250.0 1005.6,2251.1 1045.3,2253.9 1085.1,2256.4 1124.8,2261.8 1164.6,2265.5 1204.3,2269.0 1244.1,2269.0 1283.8,2265.5 1323.6,2255.4 1363.3,2237.1 1403.1,2208.1 1442.8,2174.5 1482.6,2133.7 1522.3,2083.2 1562.1,2029.5 1601.8,1987.6 1641.6,1955.4 1681.3,1933.4 1721.1,1930.6 1760.8,1944.6 1800.6,1974.6 1840.3,2018.5 1880.1,2071.5 1919.8,2125.7 1959.6,2177.6 1999.3,2224.1 2039.1,2255.9 2078.8,2279.0 2118.6,2294.5 2158.3,2299.1 2198.1,2299.6 2237.8,2297.8 2277.6,2295.8 2317.3,2295.8 2357.1,2299.6 2396.8,2304.2 2436.6,2306.8 2476.3,2306.8 2516.1,2306.8"/>
</g>
<rect x="566.1" y="1855.0" width="361.2" height="115.6" fill="#fff" stroke="#000" stroke-width="2.4"/>
<line x1="570.6" y1="1884.6" x2="680.2" y2="1884.6" stroke="#000000" stroke-width="3.2"/>
<text x="691.6" y="1901.4" class="leg">SWC-S-03</text>
<line x1="570.6" y1="1943.8" x2="680.2" y2="1943.8" stroke="#ff0000" stroke-width="3.2"/>
<text x="691.6" y="1960.6" class="leg">SWC-S-09</text>
<text x="148.3" y="2319.1" class="tl" text-anchor="end">0</text>
<text x="148.3" y="2209.2" class="tl" text-anchor="end">2</text>
<text x="148.3" y="2099.3" class="tl" text-anchor="end">4</text>
<text x="148.3" y="1989.4" class="tl" text-anchor="end">6</text>
<text x="148.3" y="1879.5" class="tl" text-anchor="end">8</text>
<text x="148.3" y="1769.6" class="tl" text-anchor="end">10</text>
<text x="148.3" y="1659.7" class="tl" text-anchor="end">12</text>
<text x="189.90" y="2384.9" class="tl" text-anchor="middle">1</text>
<text x="984.90" y="2384.9" class="tl" text-anchor="middle">10</text>
<text x="1779.90" y="2384.9" class="tl" text-anchor="middle">100</text>
<text x="1164" y="2423.1" class="ttl" textLength="360.3" lengthAdjust="spacingAndGlyphs">Grain size (µm)</text>
<text transform="translate(42.2,1963.5) rotate(-90)" class="ttl vol" text-anchor="middle" textLength="257.6" lengthAdjust="spacingAndGlyphs">Volume %</text>
<text x="302.0" y="1728.0" class="tag">(c)</text>
</svg>
</body></html>
